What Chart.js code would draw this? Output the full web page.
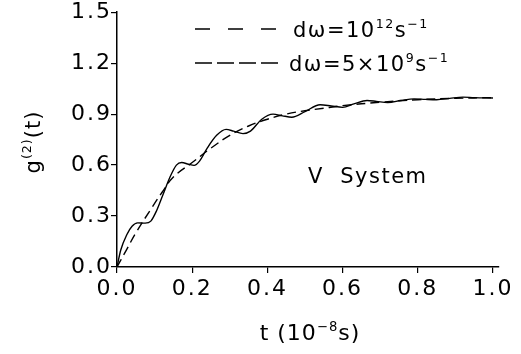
<!DOCTYPE html>
<html lang="en">
<head>
    <meta charset="UTF-8">
    <title>g2(t) V System</title>
    <script src="https://cdn.jsdelivr.net/npm/chart.js"></script>
    <style>
        html, body { margin: 0; padding: 0; background: #fff; overflow: hidden; }
        .chart-container { width: 521px; height: 354px; position: relative; }
    </style>
</head>
<body>
    <div class="chart-container"><canvas id="chart" width="521" height="354"></canvas></div>
    <script>
        // values (t in units of 1e-8 s)
        const tBroad = [0, 0.02, 0.05, 0.09, 0.12, 0.15, 0.2, 0.25, 0.3, 0.35, 0.4, 0.45, 0.5, 0.55, 0.6, 0.7, 0.8, 0.9, 1.0];
        const gBroad = [0, 0.08, 0.2, 0.34, 0.44, 0.53, 0.615, 0.7, 0.775, 0.83, 0.87, 0.9, 0.92, 0.935, 0.95, 0.97, 0.985, 0.993, 0.997];

        const tNarrow = [0, 0.01, 0.026, 0.04, 0.055, 0.075, 0.09, 0.105, 0.123, 0.141, 0.158, 0.172, 0.19, 0.205, 0.22, 0.24, 0.265, 0.29, 0.31, 0.335, 0.355, 0.385, 0.415, 0.44, 0.465, 0.5, 0.54, 0.57, 0.6, 0.63, 0.665, 0.69, 0.72, 0.755, 0.79, 0.82, 0.85, 0.885, 0.92, 0.95, 1.0];
        const gNarrow = [0, 0.1, 0.19, 0.24, 0.26, 0.258, 0.27, 0.33, 0.43, 0.53, 0.6, 0.615, 0.605, 0.598, 0.625, 0.7, 0.775, 0.81, 0.8, 0.785, 0.8, 0.87, 0.9, 0.89, 0.882, 0.915, 0.955, 0.948, 0.94, 0.96, 0.98, 0.975, 0.968, 0.98, 0.99, 0.987, 0.985, 0.993, 1.0, 0.997, 0.995];

        const xTicks = [0, 0.2, 0.4, 0.6, 0.8, 1.0];
        const yTicks = [0, 0.3, 0.6, 0.9, 1.2, 1.5];

        const FONT = 'DejaVu Sans';

        // draws text made of plain and superscript pieces
        function richText(ctx, x, y, parts, size, align) {
            let total = 0;
            parts.forEach(p => {
                ctx.font = (p.sup ? size * 0.6 : size) + 'px "' + FONT + '"';
                total += ctx.measureText(p.t).width;
            });
            let cx = align === 'center' ? x - total / 2 : x;
            parts.forEach(p => {
                ctx.font = (p.sup ? size * 0.6 : size) + 'px "' + FONT + '"';
                ctx.fillText(p.t, cx, p.sup ? y - size * 0.42 : y);
                cx += ctx.measureText(p.t).width;
            });
        }

        const textPlugin = {
            id: 'textPlugin',
            beforeDraw(chart) {
                // the original lettering is wide, so space the tick digits out
                chart.ctx.letterSpacing = '2px';
            },
            afterDraw(chart) {
                const ctx = chart.ctx;
                const xs = chart.scales.x;
                ctx.save();
                ctx.fillStyle = '#000';
                ctx.strokeStyle = '#000';
                ctx.textBaseline = 'alphabetic';
                ctx.textAlign = 'left';

                // legend samples
                ctx.lineWidth = 1.5;
                ctx.setLineDash([15, 18]);
                ctx.beginPath(); ctx.moveTo(195, 29); ctx.lineTo(278, 29); ctx.stroke();
                ctx.setLineDash([17, 5]);
                ctx.beginPath(); ctx.moveTo(195, 63); ctx.lineTo(278, 63); ctx.stroke();
                ctx.setLineDash([]);

                ctx.letterSpacing = '1.5px';
                richText(ctx, 293, 37, [{t: 'dω=10'}, {t: '12', sup: true}, {t: 's'}, {t: '−1', sup: true}], 21);
                richText(ctx, 289, 71, [{t: 'dω=5×10'}, {t: '9', sup: true}, {t: 's'}, {t: '−1', sup: true}], 21);

                // label inside the plot
                ctx.font = '21px "' + FONT + '"';
                ctx.fillText('V  System', 308, 183);

                // axis titles
                ctx.letterSpacing = '1px';
                richText(ctx, (xs.left + xs.right) / 2 + 2, 340, [{t: 't (10'}, {t: '−8', sup: true}, {t: 's)'}], 22, 'center');

                ctx.translate(40, 142);
                ctx.rotate(-Math.PI / 2);
                richText(ctx, 0, 0, [{t: 'g'}, {t: '(2)', sup: true}, {t: '(t)'}], 21, 'center');
                ctx.restore();
                ctx.letterSpacing = '0px';
            }
        };

        new Chart(document.getElementById('chart'), {
            type: 'scatter',
            data: {
                datasets: [
                    {
                        label: 'dω=10^12 s^-1',
                        data: tBroad.map((t, i) => ({ x: t, y: gBroad[i] })),
                        showLine: true,
                        borderColor: '#000',
                        borderWidth: 1.4,
                        borderDash: [9, 5],
                        pointRadius: 0,
                        tension: 0.4
                    },
                    {
                        label: 'dω=5x10^9 s^-1',
                        data: tNarrow.map((t, i) => ({ x: t, y: gNarrow[i] })),
                        showLine: true,
                        borderColor: '#000',
                        borderWidth: 1.4,
                        pointRadius: 0,
                        cubicInterpolationMode: 'monotone'
                    }
                ]
            },
            options: {
                responsive: false,
                animation: false,
                maintainAspectRatio: false,
                layout: { padding: { left: 0, top: 11, right: 22, bottom: 0 } },
                plugins: {
                    legend: { display: false },
                    tooltip: { enabled: false },
                    title: { display: false }
                },
                scales: {
                    x: {
                        type: 'linear',
                        min: 0,
                        max: 1.016,
                        afterFit: s => { s.height = 87; },
                        afterBuildTicks: s => { s.ticks = xTicks.map(v => ({ value: v })); },
                        ticks: {
                            color: '#000',
                            font: { family: FONT, size: 22 },
                            padding: 3,
                            maxRotation: 0,
                            callback: v => v.toFixed(1)
                        },
                        grid: { drawOnChartArea: false, drawTicks: true, tickLength: 6, color: '#000', lineWidth: 1.2 },
                        border: { color: '#000', width: 1.5 }
                    },
                    y: {
                        type: 'linear',
                        min: 0,
                        max: 1.5,
                        afterFit: s => { s.width = 117; },
                        afterBuildTicks: s => { s.ticks = yTicks.map(v => ({ value: v })); },
                        ticks: {
                            color: '#000',
                            font: { family: FONT, size: 22 },
                            padding: -1,
                            callback: v => v.toFixed(1)
                        },
                        grid: { drawOnChartArea: false, drawTicks: true, tickLength: 6, color: '#000', lineWidth: 1.2 },
                        border: { color: '#000', width: 1.5 }
                    }
                }
            },
            plugins: [textPlugin]
        });
    </script>
</body>
</html>
